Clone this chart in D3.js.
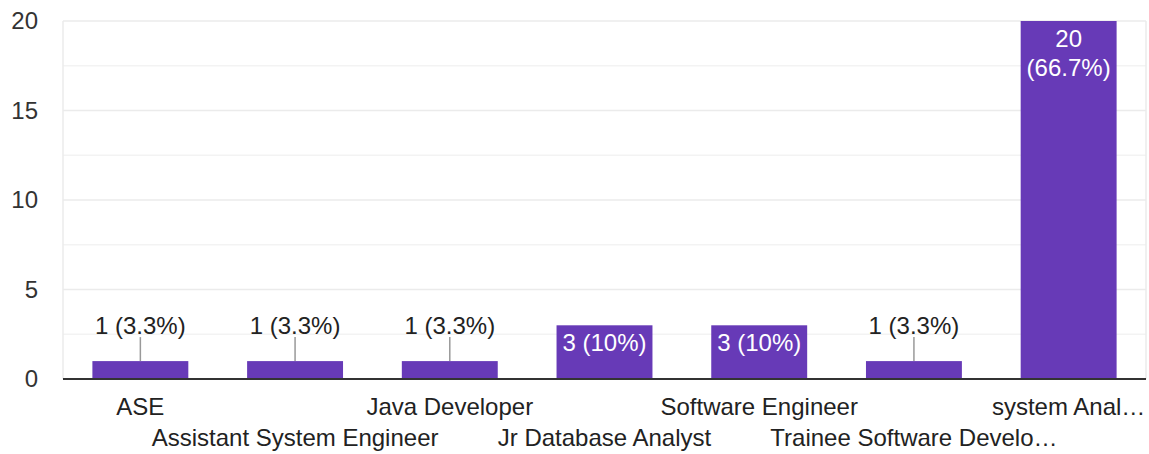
<!DOCTYPE html>
<html>
<head>
<meta charset="utf-8">
<script src="https://cdn.jsdelivr.net/npm/d3@7"></script>
<style>
  body { margin: 0; background: #fff; }
  svg { display: block; font-family: Arial, "Liberation Sans", sans-serif; }
</style>
</head>
<body>
<div id="chart"></div>
<script>
const categories = ["ASE", "Assistant System Engineer", "Java Developer", "Jr Database Analyst",
                    "Software Engineer", "Trainee Software Develo…", "system Anal…"];
const counts = [1, 1, 1, 3, 3, 1, 20];
const labels = ["1 (3.3%)", "1 (3.3%)", "1 (3.3%)", "3 (10%)", "3 (10%)", "1 (3.3%)", "20\n(66.7%)"];
const yTicks = [0, 5, 10, 15, 20];
const yMinor = [2.5, 7.5, 12.5, 17.5];

const width = 1149, height = 454;
const margin = { top: 21, right: 3, bottom: 75, left: 63 };
const fs = '24px';

const svg = d3.select('#chart').append('svg')
    .attr('width', width)
    .attr('height', height);

const x = d3.scaleBand()
    .domain(categories)
    .range([margin.left, width - margin.right])
    .paddingInner(0.38)
    .paddingOuter(0.19);

const y = d3.scaleLinear()
    .domain([0, 20])
    .range([height - margin.bottom, margin.top]);

// grid
svg.append('g')
    .selectAll('line.minor')
    .data(yMinor)
    .join('line')
    .attr('x1', margin.left).attr('x2', width - margin.right)
    .attr('y1', d => y(d)).attr('y2', d => y(d))
    .attr('stroke', '#f3f3f3').attr('stroke-width', 1.5);

svg.append('g')
    .selectAll('line.major')
    .data(yTicks.filter(d => d > 0))
    .join('line')
    .attr('x1', margin.left).attr('x2', width - margin.right)
    .attr('y1', d => y(d)).attr('y2', d => y(d))
    .attr('stroke', '#ebebeb').attr('stroke-width', 1.5);

// frame sides
svg.append('line')
    .attr('x1', margin.left).attr('x2', margin.left)
    .attr('y1', margin.top).attr('y2', y(0))
    .attr('stroke', '#ebebeb').attr('stroke-width', 1.5);
svg.append('line')
    .attr('x1', width - margin.right).attr('x2', width - margin.right)
    .attr('y1', margin.top).attr('y2', y(0))
    .attr('stroke', '#ebebeb').attr('stroke-width', 1.5);

// y tick labels
svg.append('g')
    .selectAll('text')
    .data(yTicks)
    .join('text')
    .attr('x', 38)
    .attr('y', d => y(d))
    .attr('dy', '0.35em')
    .attr('text-anchor', 'end')
    .attr('font-size', fs)
    .attr('fill', '#333')
    .text(d => d);

// bars
svg.append('g')
    .selectAll('rect')
    .data(counts)
    .join('rect')
    .attr('x', (d, i) => x(categories[i]))
    .attr('y', d => y(d))
    .attr('width', x.bandwidth())
    .attr('height', d => y(0) - y(d))
    .attr('fill', '#673ab7');

// baseline
svg.append('line')
    .attr('x1', margin.left).attr('x2', width - margin.right)
    .attr('y1', y(0)).attr('y2', y(0))
    .attr('stroke', '#333').attr('stroke-width', 2);

// value labels
const cx = i => x(categories[i]) + x.bandwidth() / 2;
counts.forEach((v, i) => {
    if (v === 1) {
        svg.append('line')
            .attr('x1', cx(i)).attr('x2', cx(i))
            .attr('y1', y(v) - 24).attr('y2', y(v))
            .attr('stroke', '#999').attr('stroke-width', 1.5);
        svg.append('text')
            .attr('x', cx(i)).attr('y', y(v) - 27)
            .attr('text-anchor', 'middle')
            .attr('font-size', fs).attr('fill', '#222')
            .text(labels[i]);
    } else {
        const lines = labels[i].split('\n');
        const t = svg.append('text')
            .attr('text-anchor', 'middle')
            .attr('font-size', fs).attr('fill', '#fff');
        lines.forEach((ln, k) => {
            t.append('tspan')
                .attr('x', cx(i))
                .attr('y', y(v) + 26 + k * 29)
                .text(ln);
        });
    }
});

// x labels, staggered
svg.append('g')
    .selectAll('text')
    .data(categories)
    .join('text')
    .attr('x', d => x(d) + x.bandwidth() / 2)
    .attr('y', (d, i) => i % 2 === 0 ? 415 : 446)
    .attr('text-anchor', 'middle')
    .attr('font-size', fs)
    .attr('fill', '#222')
    .text(d => d);
</script>
</body>
</html>
